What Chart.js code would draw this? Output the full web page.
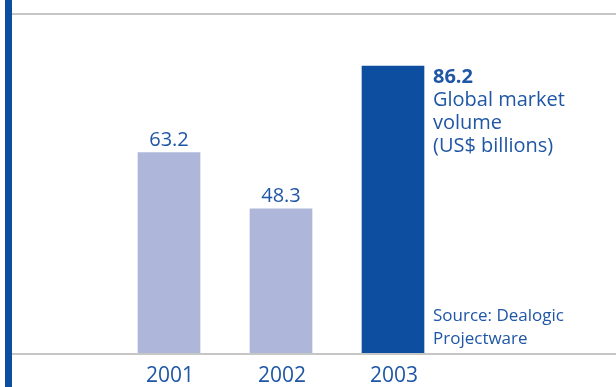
<!DOCTYPE html>
<html>
<head>
<meta charset="utf-8">
<script src="https://cdn.jsdelivr.net/npm/chart.js@4/dist/chart.umd.min.js"></script>
<style>
  html, body { margin: 0; padding: 0; background: #ffffff; }
  #wrap { position: relative; width: 616px; height: 387px; }
  canvas { display: block; }
</style>
</head>
<body>
<div id="wrap"><canvas id="c" width="616" height="387"></canvas></div>
<script>
// Global project finance market volume, US$ billions
const years = ['2001', '2002', '2003'];
const volumes = [63.2, 48.3, 86.2];
const valueLabels = ['63.2', '48.3', '86.2'];
const noteLines = ['Global market', 'volume', '(US$ billions)'];
const sourceLines = ['Source: Dealogic', 'Projectware'];

const BLUE = '#0d4ea1';
const LIGHT = '#aeb7da';
const TEXT = '#1f56a5';
const RULE = '#c6c6c6';
const FONT = '"Open Sans", "Noto Sans", sans-serif';

const decor = {
  id: 'decor',
  beforeDatasetsDraw(chart) {
    const ctx = chart.ctx;
    const y = chart.scales.y;
    ctx.save();
    // left accent strip
    ctx.fillStyle = BLUE;
    ctx.fillRect(5, 0, 7, chart.height);
    // top rule and baseline
    ctx.strokeStyle = RULE;
    ctx.lineWidth = 2;
    const top = y.getPixelForValue(y.max);
    const base = y.getPixelForValue(y.min);
    ctx.beginPath();
    ctx.moveTo(12, top);
    ctx.lineTo(chart.width, top);
    ctx.moveTo(12, base + 1);
    ctx.lineTo(chart.width, base + 1);
    ctx.stroke();
    ctx.restore();
  },
  afterDatasetsDraw(chart) {
    const ctx = chart.ctx;
    const meta = chart.getDatasetMeta(0);
    const base = chart.scales.y.getPixelForValue(chart.scales.y.min);
    ctx.save();
    ctx.fillStyle = TEXT;
    ctx.textBaseline = 'alphabetic';
    meta.data.forEach((bar, i) => {
      // year labels under the baseline
      ctx.font = '21px ' + FONT;
      ctx.textAlign = 'center';
      ctx.fillText(years[i], bar.x + 1, base + 29);
      if (i < meta.data.length - 1) {
        ctx.font = '20px ' + FONT;
        ctx.fillText(valueLabels[i], bar.x, bar.y - 7);
      } else {
        // last bar: value and caption to its right
        const x = bar.x + bar.width / 2 + 9;
        ctx.textAlign = 'left';
        ctx.font = 'bold 20px ' + FONT;
        ctx.fillText(valueLabels[i], x, bar.y + 17);
        ctx.font = '20px ' + FONT;
        noteLines.forEach((t, k) => ctx.fillText(t, x, bar.y + 17 + 23 * (k + 1)));
        ctx.font = '17px ' + FONT;
        sourceLines.forEach((t, k) => ctx.fillText(t, x, base - 32 + 23 * k));
      }
    });
    ctx.restore();
  }
};

new Chart(document.getElementById('c'), {
  type: 'bar',
  data: {
    labels: years,
    datasets: [{
      data: volumes,
      backgroundColor: volumes.map((v, i) => i === volumes.length - 1 ? BLUE : LIGHT),
      borderWidth: 0,
      barThickness: 62
    }]
  },
  options: {
    responsive: false,
    animation: false,
    devicePixelRatio: 1,
    layout: { padding: { left: 113, right: 167, top: 14, bottom: 34 } },
    plugins: { legend: { display: false }, tooltip: { enabled: false } },
    scales: {
      x: { display: false },
      y: { display: false, min: 10, max: 100 }
    }
  },
  plugins: [decor]
});
</script>
</body>
</html>
